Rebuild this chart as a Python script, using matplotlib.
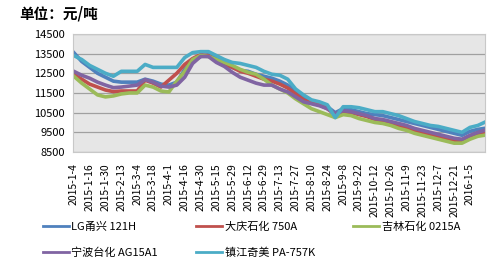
import matplotlib
matplotlib.use("Agg")
import matplotlib.pyplot as plt

plt.rcParams['font.family'] = ['Noto Sans CJK SC', 'DejaVu Sans']

# trading-day index of each sample (every 5 days), last one is the final day
days = list(range(0, 260, 5)) + [259]

tick_labels = ["2015-1-4", "2015-1-16", "2015-1-30", "2015-2-13", "2015-3-4", "2015-3-18",
               "2015-4-1", "2015-4-16", "2015-4-30", "2015-5-15", "2015-5-29", "2015-6-12",
               "2015-6-29", "2015-7-13", "2015-7-27", "2015-8-10", "2015-8-24", "2015-9-8",
               "2015-9-22", "2015-10-12", "2015-10-26", "2015-11-9", "2015-11-23", "2015-12-7",
               "2015-12-21", "2016-1-5"]

lg_121h = [13550, 13100, 12800, 12500, 12300, 12100, 12050, 12050, 12050, 12200,
           12100, 11950, 11900, 12050, 12700, 13100, 13350, 13450, 13250, 13000,
           12800, 12650, 12600, 12450, 12350, 12250, 12100, 11900, 11600, 11250,
           11050, 10950, 10800, 10500, 10700, 10650, 10550, 10450, 10400, 10350,
           10250, 10150, 10050, 9950, 9850, 9750, 9650, 9550, 9450, 9350,
           9550, 9650, 9700]

daqing_750a = [12450, 12200, 11950, 11800, 11650, 11570, 11600, 11600, 11600, 12150,
               12000, 11800, 12150, 12500, 12950, 13250, 13450, 13400, 13150, 12950,
               12800, 12600, 12500, 12350, 12200, 12100, 11950, 11750, 11450, 11150,
               11000, 10900, 10700, 10400, 10550, 10500, 10400, 10300, 10150, 10050,
               9950, 9850, 9750, 9600, 9500, 9400, 9300, 9200, 9100, 9050,
               9250, 9400, 9500]

jilin_0215a = [12350, 12000, 11700, 11400, 11300, 11350, 11450, 11500, 11500, 11900,
               11800, 11600, 11550, 12100, 12600, 13200, 13400, 13350, 13200, 13050,
               12900, 12700, 12550, 12450, 12200, 11900, 11700, 11500, 11200, 10950,
               10700, 10550, 10400, 10250, 10400, 10350, 10200, 10100, 10000, 9950,
               9850, 9700, 9600, 9450, 9350, 9250, 9150, 9050, 8950, 8950,
               9150, 9300, 9350]

ningbo_ag15a1 = [12600, 12400, 12250, 12050, 11900, 11770, 11800, 11850, 11900, 12180,
                 12050, 11850, 11800, 11900, 12300, 13000, 13350, 13350, 13050, 12850,
                 12550, 12300, 12150, 12000, 11900, 11900, 11700, 11550, 11300, 11050,
                 10950, 10850, 10700, 10450, 10600, 10550, 10450, 10350, 10200, 10150,
                 10050, 9950, 9850, 9700, 9600, 9500, 9400, 9300, 9200, 9150,
                 9350, 9500, 9600]

zhenjiang_pa757k = [13400, 13200, 12900, 12700, 12500, 12350, 12600, 12600, 12600, 12950,
                    12800, 12800, 12800, 12800, 13300, 13550, 13600, 13600, 13400, 13200,
                    13050, 13000, 12900, 12800, 12600, 12450, 12400, 12200, 11700, 11400,
                    11150, 11050, 10900, 10250, 10800, 10800, 10750, 10650, 10550, 10550,
                    10450, 10350, 10200, 10050, 9950, 9850, 9800, 9700, 9600, 9500,
                    9750, 9850, 10000]

series = [
    ("LG甬兴 121H", lg_121h, "#4f81bd"),
    ("大庆石化 750A", daqing_750a, "#c0504d"),
    ("吉林石化 0215A", jilin_0215a, "#9bbb59"),
    ("宁波台化 AG15A1", ningbo_ag15a1, "#8064a2"),
    ("镇江奇美 PA-757K", zhenjiang_pa757k, "#4bacc6"),
]

fig = plt.figure(figsize=(5, 2.63), dpi=100)
ax = fig.add_axes([0.146, 0.422, 0.824, 0.449])
ax.set_facecolor("#e6e6e6")

lines = []
for name, vals, col in series:
    ln, = ax.plot(days, vals, color=col, lw=2.6, label=name)
    lines.append(ln)

ax.set_ylim(8500, 14500)
ax.set_yticks(range(8500, 14501, 1000))
ax.set_xlim(-0.5, 259.5)
ax.set_xticks(range(0, 10 * len(tick_labels), 10))
ax.set_xticklabels(tick_labels, rotation=90, fontsize=7.5, va="top")
ax.tick_params(axis="y", labelsize=8, length=0, pad=6)
ax.tick_params(axis="x", length=0, pad=8)
ax.grid(axis="y", color="#a0a0a0", lw=0.9)
ax.set_axisbelow(True)
for s in ax.spines.values():
    s.set_color("#c8c8c8")

fig.text(0.038, 0.95, "单位：元/吨", fontsize=10.5, fontweight="bold", va="center")

# legend is filled column by column, so reorder to get row-wise layout
order = [0, 3, 1, 4, 2]
leg = fig.legend([lines[i] for i in order], [series[i][0] for i in order],
                 loc="lower left", bbox_to_anchor=(0.065, -0.02), ncol=3, frameon=False,
                 fontsize=8, handlelength=2.4, columnspacing=3.4, handletextpad=0.2,
                 labelspacing=1.45)
for h in leg.legend_handles:
    h.set_linewidth(2.0)

fig.savefig("out.png", dpi=100)
